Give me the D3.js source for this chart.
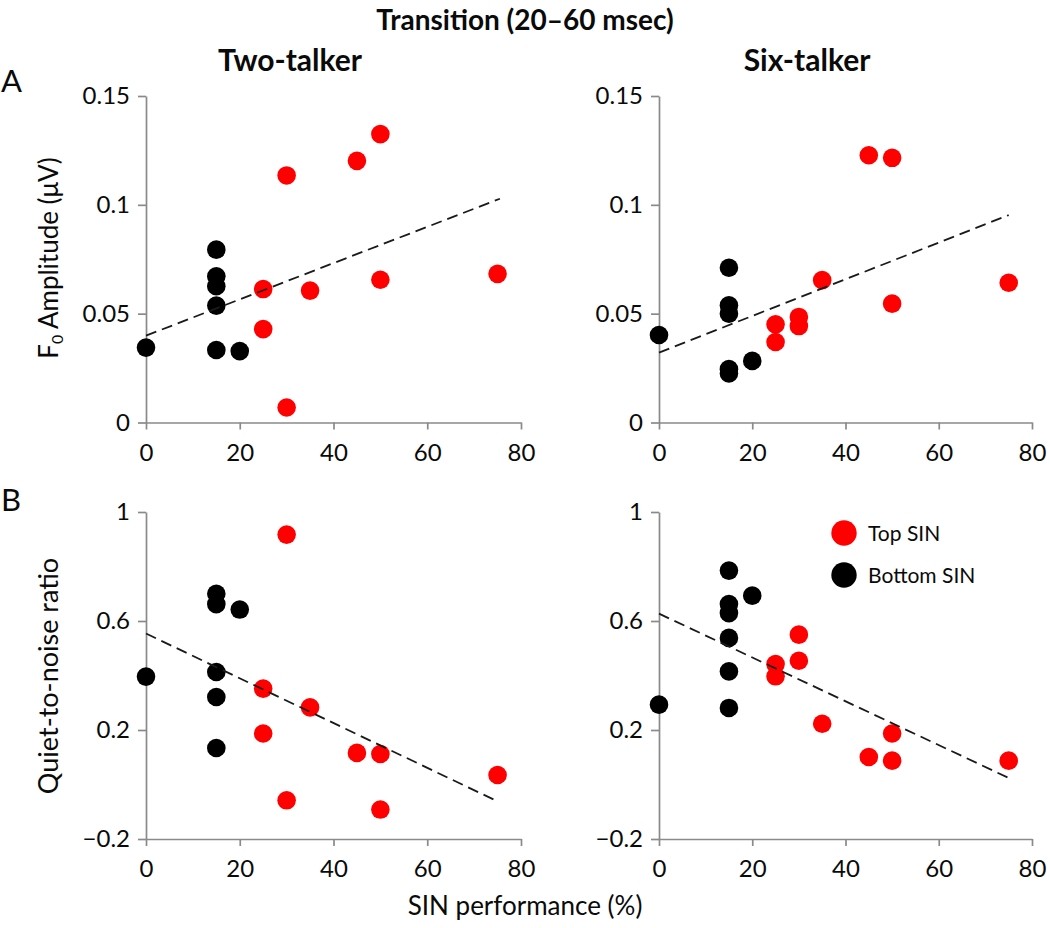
<!DOCTYPE html>
<html><head><meta charset="utf-8">
<script src="https://cdn.jsdelivr.net/npm/d3@7"></script>
<style>
body{margin:0;background:#fff}
svg{display:block}
text{font-family:Lato,"Open Sans","Noto Sans",sans-serif;fill:#0a0a0a}
</style>
</head><body>
<svg id="chart" width="1050" height="928"></svg>
<script>
// ---- tick data ----
const xTicks = [0, 20, 40, 60, 80];
const ampTicks = [0, 0.05, 0.1, 0.15];
const ampTickLabels = ["0", "0.05", "0.1", "0.15"];
const ratioTicks = [-0.2, 0.2, 0.6, 1];
const ratioTickLabels = ["\u22120.2", "0.2", "0.6", "1"];

// ---- Panel A, Two-talker (F0 amplitude) ----
const twoAmpTopX = [25, 25, 30, 30, 35, 45, 50, 50, 75];
const twoAmpTopY = [0.0613, 0.0429, 0.1135, 0.0069, 0.0606, 0.1202, 0.1325, 0.0656, 0.0683];
const twoAmpBottomX = [0, 15, 15, 15, 15, 15, 20];
const twoAmpBottomY = [0.0344, 0.0794, 0.0672, 0.0626, 0.0537, 0.0333, 0.0328];
const twoAmpFitX = [0, 75.5];
const twoAmpFitY = [0.0399, 0.1028];

// ---- Panel A, Six-talker (F0 amplitude) ----
const sixAmpTopX = [25, 25, 30, 30, 35, 45, 50, 50, 75];
const sixAmpTopY = [0.0451, 0.0370, 0.0485, 0.0443, 0.0654, 0.1228, 0.1216, 0.0546, 0.0642];
const sixAmpBottomX = [0, 15, 15, 15, 15, 15, 20];
const sixAmpBottomY = [0.0402, 0.0711, 0.0538, 0.0500, 0.0245, 0.0225, 0.0283];
const sixAmpFitX = [0, 75];
const sixAmpFitY = [0.0321, 0.0953];

// ---- Panel B, Two-talker (quiet-to-noise ratio) ----
const twoRatioTopX = [25, 25, 30, 30, 35, 45, 50, 50, 75];
const twoRatioTopY = [0.352, 0.187, 0.917, -0.058, 0.283, 0.116, 0.112, -0.092, 0.035];
const twoRatioBottomX = [0, 15, 15, 15, 15, 15, 20];
const twoRatioBottomY = [0.396, 0.700, 0.662, 0.413, 0.321, 0.134, 0.642];
const twoRatioFitX = [0, 75];
const twoRatioFitY = [0.554, -0.062];

// ---- Panel B, Six-talker (quiet-to-noise ratio) ----
const sixRatioTopX = [25, 25, 30, 30, 35, 45, 50, 50, 75];
const sixRatioTopY = [0.442, 0.397, 0.550, 0.454, 0.223, 0.101, 0.187, 0.0875, 0.0875];
const sixRatioBottomX = [0, 15, 15, 15, 15, 15, 15, 20];
const sixRatioBottomY = [0.293, 0.785, 0.662, 0.629, 0.538, 0.415, 0.281, 0.693];
const sixRatioFitX = [0, 75.5];
const sixRatioFitY = [0.627, 0.020];

const legendLabels = ["Top SIN", "Bottom SIN"];
const groupColors = ["#ff0000", "#000000"];

// ---- layout ----
const svg = d3.select("#chart");
svg.append("rect").attr("width", 1050).attr("height", 928).attr("fill", "#fff");

const colRange = { left: [146, 521], right: [659, 1032] };
const rowRange = { top: [422.5, 96], bottom: [839, 512] };
const axisColor = "#8a8a8a";

const panels = [
  { col: "left", row: "top", dom: [0, 0.15], ticks: ampTicks, labels: ampTickLabels,
    topX: twoAmpTopX, topY: twoAmpTopY, botX: twoAmpBottomX, botY: twoAmpBottomY, fitX: twoAmpFitX, fitY: twoAmpFitY },
  { col: "right", row: "top", dom: [0, 0.15], ticks: ampTicks, labels: ampTickLabels,
    topX: sixAmpTopX, topY: sixAmpTopY, botX: sixAmpBottomX, botY: sixAmpBottomY, fitX: sixAmpFitX, fitY: sixAmpFitY },
  { col: "left", row: "bottom", dom: [-0.2, 1], ticks: ratioTicks, labels: ratioTickLabels,
    topX: twoRatioTopX, topY: twoRatioTopY, botX: twoRatioBottomX, botY: twoRatioBottomY, fitX: twoRatioFitX, fitY: twoRatioFitY },
  { col: "right", row: "bottom", dom: [-0.2, 1], ticks: ratioTicks, labels: ratioTickLabels,
    topX: sixRatioTopX, topY: sixRatioTopY, botX: sixRatioBottomX, botY: sixRatioBottomY, fitX: sixRatioFitX, fitY: sixRatioFitY, legend: true }
];

panels.forEach(p => {
  const x = d3.scaleLinear().domain([0, 80]).range(colRange[p.col]);
  const y = d3.scaleLinear().domain(p.dom).range(rowRange[p.row]);
  const g = svg.append("g");

  const yAxis = d3.axisLeft(y).tickValues(p.ticks)
    .tickFormat((d, i) => p.labels[i]).tickSize(8).tickSizeOuter(0).tickPadding(8);
  const xAxis = d3.axisBottom(x).tickValues(xTicks)
    .tickFormat(d3.format("d")).tickSize(7).tickSizeOuter(0).tickPadding(14);

  const ya = g.append("g").attr("transform", `translate(${x(0)},0)`).call(yAxis);
  const xa = g.append("g").attr("transform", `translate(0,${y(p.dom[0])})`).call(xAxis);
  [ya, xa].forEach(a => {
    a.select(".domain").attr("stroke", axisColor).attr("stroke-width", 1.7);
    a.selectAll(".tick line").attr("stroke", axisColor).attr("stroke-width", 1.7);
    a.selectAll(".tick text").attr("font-size", 24).attr("fill", "#000")
      .attr("font-family", "Lato, 'Open Sans', sans-serif");
  });

  const bot = p.botX.map((v, i) => [v, p.botY[i]]);
  const top = p.topX.map((v, i) => [v, p.topY[i]]);
  g.selectAll("circle.bot").data(bot).join("circle").attr("class", "bot")
    .attr("cx", d => x(d[0])).attr("cy", d => y(d[1])).attr("r", 9.3).attr("fill", groupColors[1]);
  g.selectAll("circle.top").data(top).join("circle").attr("class", "top")
    .attr("cx", d => x(d[0])).attr("cy", d => y(d[1])).attr("r", 9.3).attr("fill", groupColors[0]);

  const fit = p.fitX.map((v, i) => [v, p.fitY[i]]);
  g.append("path").datum(fit)
    .attr("d", d3.line().x(d => x(d[0])).y(d => y(d[1])))
    .attr("fill", "none").attr("stroke", "#1a1a1a").attr("stroke-width", 1.8)
    .attr("stroke-dasharray", "11,6");

  if (p.legend) {
    const lg = svg.append("g").attr("transform", "translate(844,533)");
    legendLabels.forEach((lab, i) => {
      lg.append("circle").attr("cx", 0).attr("cy", i * 42).attr("r", 12.7).attr("fill", groupColors[i]);
      lg.append("text").attr("x", 24).attr("y", i * 42).attr("dy", "0.36em")
        .attr("font-size", 21).text(lab);
    });
  }
});

// ---- titles & labels ----
svg.append("text").attr("x", 525).attr("y", 30).attr("text-anchor", "middle")
  .attr("font-size", 28).attr("font-weight", "bold").text("Transition (20\u201360 msec)");
svg.append("text").attr("x", 290).attr("y", 71).attr("text-anchor", "middle")
  .attr("font-size", 30).attr("font-weight", "bold").text("Two-talker");
svg.append("text").attr("x", 807).attr("y", 71).attr("text-anchor", "middle")
  .attr("font-size", 30).attr("font-weight", "bold").text("Six-talker");

svg.append("text").attr("x", 1).attr("y", 92).attr("font-size", 31).text("A");
svg.append("text").attr("x", 1).attr("y", 511).attr("font-size", 31).text("B");

// rotated y label with subscript, centred by measuring its length
const yl1 = svg.append("text").attr("font-size", 26);
yl1.append("tspan").text("F");
yl1.append("tspan").attr("font-size", 16).attr("dy", 5).text("0");
yl1.append("tspan").attr("dy", -5).text(" Amplitude (\u03bcV)");
const len1 = yl1.node().getComputedTextLength();
yl1.attr("transform", `translate(58,${258 + len1 / 2}) rotate(-90)`);

const yl2 = svg.append("text").attr("font-size", 27).text("Quiet-to-noise ratio");
const len2 = yl2.node().getComputedTextLength();
yl2.attr("transform", `translate(58,${676 + len2 / 2}) rotate(-90)`);

svg.append("text").attr("x", 525).attr("y", 915).attr("text-anchor", "middle")
  .attr("font-size", 26).text("SIN performance (%)");
</script>
</body></html>
